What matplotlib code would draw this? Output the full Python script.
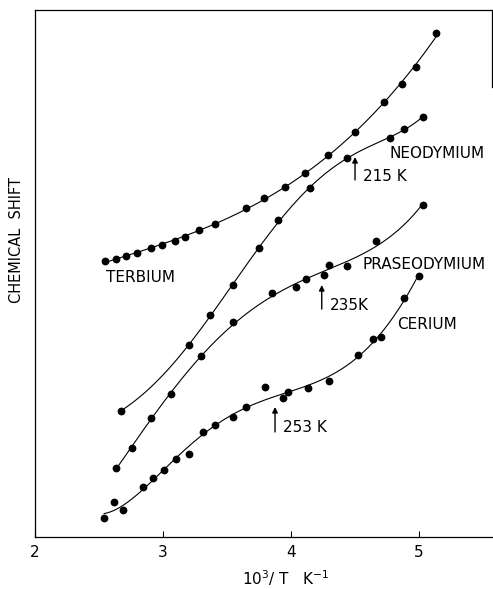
import numpy as np
import matplotlib.pyplot as plt

# readings: x = 10^3/T, y = chemical shift (arbitrary units)
tb_x = [2.55, 2.63, 2.71, 2.80, 2.91, 2.99, 3.09, 3.17, 3.28, 3.41,
        3.65, 3.79, 3.95, 4.11, 4.29, 4.50, 4.73, 4.87, 4.98, 5.13]
tb_y = [2.76, 2.78, 2.81, 2.84, 2.89, 2.92, 2.96, 3.00, 3.07, 3.13,
        3.29, 3.39, 3.50, 3.64, 3.82, 4.05, 4.35, 4.53, 4.70, 5.04]

nd_x = [2.67, 3.20, 3.37, 3.55, 3.75, 3.90, 4.15, 4.44, 4.77, 4.88, 5.03]
nd_y = [1.26, 1.92, 2.22, 2.52, 2.89, 3.17, 3.49, 3.79, 3.99, 4.08, 4.20]

pr_x = [2.63, 2.76, 2.91, 3.06, 3.30, 3.55, 3.85, 4.04, 4.12, 4.26,
        4.30, 4.44, 4.66, 5.03]
pr_y = [0.69, 0.89, 1.19, 1.43, 1.81, 2.15, 2.44, 2.50, 2.58, 2.62,
        2.72, 2.71, 2.96, 3.32]

ce_x = [2.54, 2.62, 2.69, 2.84, 2.92, 3.01, 3.10, 3.20, 3.31, 3.41, 3.55,
        3.65, 3.80, 3.94, 3.98, 4.13, 4.30, 4.52, 4.64, 4.70, 4.88, 5.00]
ce_y = [0.19, 0.35, 0.27, 0.50, 0.59, 0.67, 0.78, 0.83, 1.05, 1.12, 1.20,
        1.30, 1.50, 1.39, 1.45, 1.49, 1.56, 1.82, 1.98, 2.00, 2.39, 2.61]

series = [(tb_x, tb_y, 3), (nd_x, nd_y, 5), (pr_x, pr_y, 4), (ce_x, ce_y, 5)]

names = ['TERBIUM', 'NEODYMIUM', 'PRASEODYMIUM', 'CERIUM']
name_pos = [(2.555, 2.60), (4.77, 3.84), (4.56, 2.73), (4.83, 2.13)]

# transition temperatures marked with arrows: label, x, arrow bottom, arrow tip
trans = [('215 K', 4.50, 3.57, 3.80), ('235K', 4.24, 2.28, 2.52), ('253 K', 3.875, 1.05, 1.30)]

plt.rcParams['font.family'] = 'DejaVu Sans'
fig = plt.figure(figsize=(4.93, 5.89), dpi=100)
ax = fig.add_axes([35/493, 1 - 537/589, 457/493, 527/589])

for x, y, deg in series:
    # smooth hand-drawn-like curve through each set of readings
    c = np.polyfit(x, y, deg)
    xs = np.linspace(min(x), max(x), 200)
    ax.plot(xs, np.polyval(c, xs), color='black', lw=0.8)
    ax.plot(x, y, 'o', color='black', ms=4.6)

for name, (tx, ty) in zip(names, name_pos):
    ax.text(tx, ty, name, fontsize=11, va='center', ha='left')

for lab, tx, y0, y1 in trans:
    ax.annotate('', xy=(tx, y1), xytext=(tx, y0),
                arrowprops=dict(arrowstyle='-|>', color='black', lw=1.0,
                                mutation_scale=8, shrinkA=0, shrinkB=0))
    ax.text(tx + 0.06, (y0 + y1) / 2 - 0.08, lab, fontsize=11, va='center', ha='left')

ax.set_xlim(2, 5.57)
ax.set_ylim(0, 5.27)
ax.set_xticks([2, 3, 4, 5])
ax.set_yticks([])
ax.tick_params(axis='x', direction='in', length=4, labelsize=11, pad=6)
ax.spines['right'].set_bounds(4.5, 5.27)
for s in ax.spines.values():
    s.set_linewidth(0.9)

fig.text(286/493, 1 - 578/589, r'10$^3$/ T   K$^{-1}$', fontsize=11, ha='center', va='center')
fig.text(17/493, 1 - 240/589, 'CHEMICAL  SHIFT', fontsize=10.5, rotation=90, ha='center', va='center')

fig.savefig('out.png', dpi=100)
